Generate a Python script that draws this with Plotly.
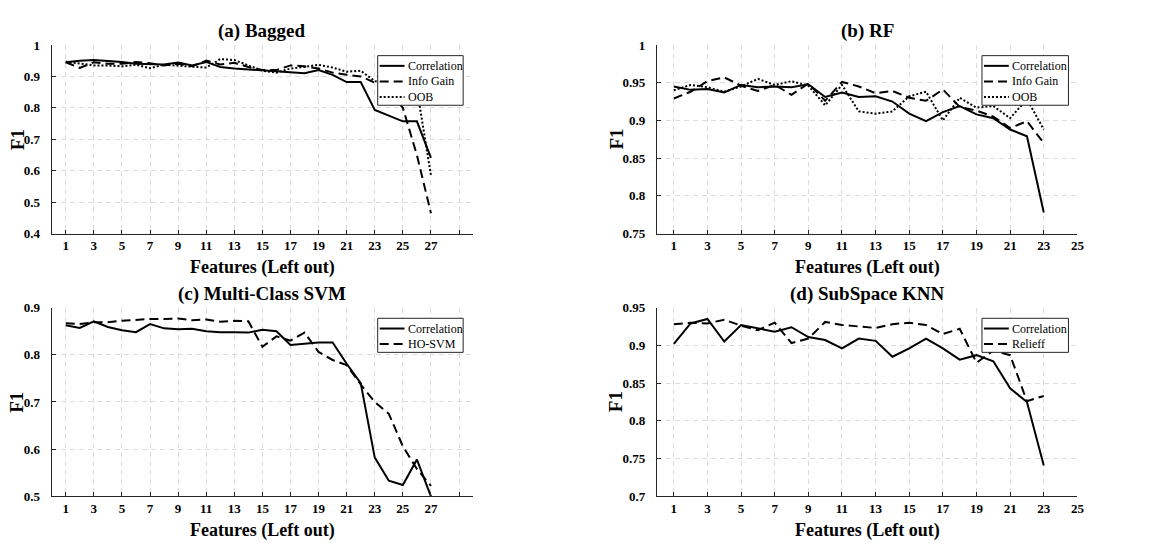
import plotly.graph_objects as go

# ---------------- data ----------------
feat_a = list(range(1, 28))
corr_a = [0.945, 0.950, 0.952, 0.950, 0.946, 0.940, 0.940, 0.938, 0.944, 0.935, 0.946, 0.930, 0.925,
          0.922, 0.920, 0.918, 0.913, 0.910, 0.920, 0.905, 0.882, 0.882, 0.793, 0.775, 0.757, 0.757, 0.641]
ig_a = [0.945, 0.927, 0.945, 0.940, 0.940, 0.946, 0.942, 0.935, 0.940, 0.932, 0.950, 0.938, 0.943,
        0.930, 0.920, 0.920, 0.935, 0.932, 0.925, 0.912, 0.905, 0.900, 0.880, 0.855, 0.800, 0.650, 0.465]
oob_a = [0.947, 0.940, 0.935, 0.935, 0.932, 0.937, 0.926, 0.937, 0.934, 0.930, 0.928, 0.955, 0.952,
         0.935, 0.918, 0.912, 0.925, 0.930, 0.937, 0.928, 0.915, 0.918, 0.885, 0.875, 0.870, 0.860, 0.585]

feat_b = list(range(1, 24))
corr_b = [0.945, 0.9405, 0.9415, 0.937, 0.947, 0.944, 0.945, 0.944, 0.948, 0.931, 0.937, 0.931,
          0.932, 0.925, 0.909, 0.899, 0.911, 0.919, 0.908, 0.903, 0.888, 0.879, 0.778]
ig_b = [0.929, 0.938, 0.952, 0.957, 0.946, 0.939, 0.947, 0.934, 0.949, 0.926, 0.951, 0.945,
        0.936, 0.939, 0.930, 0.926, 0.941, 0.918, 0.913, 0.905, 0.890, 0.899, 0.870]
oob_b = [0.940, 0.947, 0.944, 0.938, 0.945, 0.955, 0.947, 0.952, 0.946, 0.920, 0.947, 0.912,
         0.909, 0.912, 0.932, 0.938, 0.900, 0.930, 0.917, 0.919, 0.903, 0.928, 0.888]

feat_c = list(range(1, 28))
corr_c = [0.8625, 0.857, 0.871, 0.859, 0.852, 0.848, 0.865, 0.856, 0.854, 0.855, 0.850, 0.848, 0.848,
          0.847, 0.853, 0.850, 0.821, 0.824, 0.826, 0.826, 0.781, 0.740, 0.582, 0.533, 0.524, 0.578, 0.500]
hosvm_c = [0.867, 0.865, 0.869, 0.869, 0.872, 0.874, 0.876, 0.876, 0.877, 0.873, 0.875, 0.870, 0.872,
           0.871, 0.817, 0.839, 0.830, 0.847, 0.806, 0.789, 0.778, 0.737, 0.700, 0.675, 0.606, 0.558, 0.522]

feat_d = list(range(1, 24))
corr_d = [0.902, 0.929, 0.935, 0.905, 0.927, 0.922, 0.918, 0.924, 0.911, 0.907, 0.896, 0.909,
          0.906, 0.885, 0.896, 0.909, 0.896, 0.881, 0.887, 0.879, 0.843, 0.825, 0.741]
relieff_d = [0.928, 0.930, 0.929, 0.934, 0.926, 0.920, 0.930, 0.903, 0.909, 0.931, 0.927, 0.925,
             0.923, 0.928, 0.930, 0.927, 0.915, 0.922, 0.877, 0.893, 0.887, 0.826, 0.833]

xticks_left = list(range(1, 30, 2))
xtick_text_left = [str(v) for v in range(1, 28, 2)] + [""]
xticks_right = list(range(1, 26, 2))

yticks_a = [0.4, 0.5, 0.6, 0.7, 0.8, 0.9, 1.0]
ytext_a = ["0.4", "0.5", "0.6", "0.7", "0.8", "0.9", "1"]
yticks_b = [0.75, 0.8, 0.85, 0.9, 0.95, 1.0]
ytext_b = ["0.75", "0.8", "0.85", "0.9", "0.95", "1"]
yticks_c = [0.5, 0.6, 0.7, 0.8, 0.9]
ytext_c = ["0.5", "0.6", "0.7", "0.8", "0.9"]
yticks_d = [0.7, 0.75, 0.8, 0.85, 0.9, 0.95]
ytext_d = ["0.7", "0.75", "0.8", "0.85", "0.9", "0.95"]

titles = ["(a) Bagged", "(b) RF", "(c) Multi-Class SVM", "(d) SubSpace KNN"]
legend_names = [["Correlation", "Info Gain", "OOB"], ["Correlation", "Info Gain", "OOB"],
                ["Correlation", "HO-SVM"], ["Correlation", "Relieff"]]

# ---------------- layout geometry ----------------
W, H = 1151, 552
def px_x(p):
    return p / W
def px_y(p):
    return 1 - p / H

L_LEFT, L_RIGHT = 52, 476
R_LEFT, R_RIGHT = 661, 1084
T_TOP, T_BOT = 39, 233
B_TOP, B_BOT = 309, 503

xdom_l = [px_x(L_LEFT), px_x(L_RIGHT)]
xdom_r = [px_x(R_LEFT), px_x(R_RIGHT)]
ydom_t = [px_y(T_BOT), px_y(T_TOP)]
ydom_b = [px_y(B_BOT), px_y(B_TOP)]

FONT = "Liberation Serif, Times New Roman, serif"
AXC = "#262626"
SOLID = dict(color="black", width=2, dash="solid")
DASH = dict(color="black", width=2, dash="9px,5px")
DOT = dict(color="black", width=2, dash="2px,2px")
STYLES = [SOLID, DASH, DOT]

fig = go.Figure()

def add(x, y, name, line, xa, ya):
    fig.add_trace(go.Scatter(x=x, y=y, mode="lines", name=name, line=line,
                             xaxis=xa, yaxis=ya, showlegend=False))

add(feat_a, corr_a, "Correlation", SOLID, "x", "y")
add(feat_a, ig_a, "Info Gain", DASH, "x", "y")
add(feat_a, oob_a, "OOB", DOT, "x", "y")

add(feat_b, corr_b, "Correlation", SOLID, "x2", "y2")
add(feat_b, ig_b, "Info Gain", DASH, "x2", "y2")
add(feat_b, oob_b, "OOB", DOT, "x2", "y2")

add(feat_c, corr_c, "Correlation", SOLID, "x3", "y3")
add(feat_c, hosvm_c, "HO-SVM", DASH, "x3", "y3")

add(feat_d, corr_d, "Correlation", SOLID, "x4", "y4")
add(feat_d, relieff_d, "Relieff", DASH, "x4", "y4")

axcommon = dict(showline=True, linecolor=AXC, linewidth=1.2, mirror=False,
                ticks="inside", ticklen=4, tickwidth=1, tickcolor=AXC,
                showgrid=True, gridcolor="#dcdcdc", gridwidth=1, griddash="5px,4px",
                zeroline=False, tickfont=dict(family=FONT, size=13, color="black", weight="bold"))

def xax(dom, anchor, rng, tv, tt):
    d = dict(axcommon)
    d.update(domain=dom, anchor=anchor, range=rng, tickmode="array", tickvals=tv, ticktext=tt,
             ticklabelstandoff=0)
    return d

def yax(dom, anchor, rng, tv, tt):
    d = dict(axcommon)
    d.update(domain=dom, anchor=anchor, range=rng, tickmode="array", tickvals=tv, ticktext=tt,
             ticklabelstandoff=8)
    return d

fig.update_layout(
    width=W, height=H, margin=dict(l=0, r=0, t=0, b=0),
    paper_bgcolor="white", plot_bgcolor="white", showlegend=False,
    xaxis=xax(xdom_l, "y", [0, 30], xticks_left, xtick_text_left),
    yaxis=yax(ydom_t, "x", [0.4, 1.0], yticks_a, ytext_a),
    xaxis2=xax(xdom_r, "y2", [0, 25], xticks_right, [str(v) for v in xticks_right]),
    yaxis2=yax(ydom_t, "x2", [0.75, 1.0], yticks_b, ytext_b),
    xaxis3=xax(xdom_l, "y3", [0, 30], xticks_left, xtick_text_left),
    yaxis3=yax(ydom_b, "x3", [0.5, 0.9], yticks_c, ytext_c),
    xaxis4=xax(xdom_r, "y4", [0, 25], xticks_right, [str(v) for v in xticks_right]),
    yaxis4=yax(ydom_b, "x4", [0.7, 0.95], yticks_d, ytext_d),
)

ann = []
shapes = []
tfont = dict(family=FONT, size=19, color="black", weight="bold")
lfont = dict(family=FONT, size=12, color="black")
centers_x = [(L_LEFT + L_RIGHT) / 2, (R_LEFT + R_RIGHT) / 2]
legend_box_x = [(380, 466), (988, 1075)]
for i, t in enumerate(titles):
    cx = centers_x[i % 2]
    cy = 25 if i < 2 else 295
    ann.append(dict(text=t, x=px_x(cx), y=px_y(cy), xref="paper", yref="paper",
                    xanchor="center", yanchor="middle", showarrow=False, font=tfont))
    fy_top = 256 if i < 2 else 526
    ann.append(dict(text="Features (Left out)", x=px_x(cx), y=px_y(fy_top), xref="paper", yref="paper",
                    xanchor="center", yanchor="top", showarrow=False, borderpad=0,
                    font=dict(family=FONT, size=18, color="black", weight="bold")))
    fx = 17 if i % 2 == 0 else 620
    ymid = (T_TOP + T_BOT) / 2 if i < 2 else (B_TOP + B_BOT) / 2
    ann.append(dict(text="F1", x=px_x(fx), y=px_y(ymid), xref="paper", yref="paper",
                    xanchor="center", yanchor="middle", showarrow=False, textangle=-90, font=tfont))

    # framed key inside the axes
    names = legend_names[i]
    bx0, bx1 = legend_box_x[i % 2]
    by0 = 50 if i < 2 else 320
    by1 = by0 + 3 + 16 * len(names)
    shapes.append(dict(type="rect", xref="paper", yref="paper", layer="above",
                       x0=px_x(bx0), x1=px_x(bx1), y0=px_y(by0), y1=px_y(by1),
                       line=dict(color=AXC, width=1), fillcolor="white"))
    for k, nm in enumerate(names):
        ry = by0 + 10.5 + 16 * k
        st = STYLES[k]
        shapes.append(dict(type="line", xref="paper", yref="paper", layer="above",
                           x0=px_x(bx0 + 2), x1=px_x(bx0 + 27), y0=px_y(ry), y1=px_y(ry),
                           line=dict(color="black", width=2, dash=st["dash"])))
        ann.append(dict(text=nm, x=px_x(bx0 + 28), y=px_y(ry), xref="paper", yref="paper",
                        xanchor="left", yanchor="middle", showarrow=False, font=lfont))

fig.update_layout(annotations=ann, shapes=shapes)

fig.write_html("out.html")
